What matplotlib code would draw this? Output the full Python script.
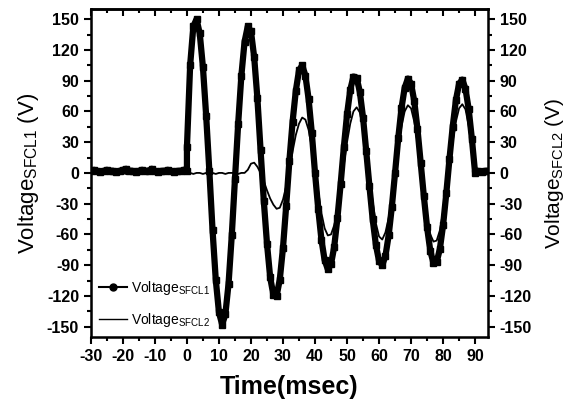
import numpy as np
import matplotlib.pyplot as plt
from matplotlib.lines import Line2D
from matplotlib.ticker import MultipleLocator

plt.rcParams['font.family'] = ['Liberation Sans', 'DejaVu Sans']
plt.rcParams['mathtext.default'] = 'regular'
plt.rcParams['axes.unicode_minus'] = False

# SFCL1 voltage (V): steady state before fault, then fault period
t_pre = list(range(-30, 1))
v1_pre = [2, 3, 2, 1, 2, 3, 2, 2, 1, 2, 3, 4, 2, 2, 1, 2, 3, 2, 2, 4, 2, 1, 2, 2, 3, 2, 1, 2, 2, 3, 2]
t_fault = list(range(0, 95))
v1_fault = [25, 105, 143, 150, 136, 103, 56, 2,
            -56, -104, -136, -148, -138, -108, -61, -6,
            48, 95, 128, 143, 138, 113, 73, 22,
            -27, -69, -102, -119, -120, -104, -73, -32,
            12, 50, 80, 100, 105, 95, 72, 39, 0,
            -35, -65, -85, -94, -89, -72, -44, -11,
            25, 57, 81, 94, 93, 79, 54, 21,
            -13, -45, -70, -86, -90, -81, -61, -33, 0,
            34, 63, 83, 92, 87, 70, 43, 10,
            -23, -53, -76, -88, -87, -74, -51, -20,
            14, 45, 71, 87, 91, 82, 62, 33, 0,
            2, 1, 2, 2]

# SFCL2 voltage (V)
t2 = list(range(-30, 95))
v2 = [0, -1, 0, 0, -1, 0, 0, -1, 0, 0, 0, -1, 0, 0, -1, 0, 0, 0, -1, 0,
      0, -1, 0, 0, 0, -1, 0, 0, -1, 0, 0, 0, -1, 0, 0, -1, 0, 0, 0, -1,
      0, 0, -1, 0, 0, 0, -1, 0, 0,
      3, 9, 10, 6, 0, -8, -17, -25, -31, -35,
      -34, -26, -13, 3, 21, 37, 48, 54,
      52, 42, 25, 4, -18, -39, -54, -61,
      -60, -51, -36, -15, 8, 30, 48, 60, 64,
      59, 44, 22, -3, -28, -49, -62,
      -65, -58, -44, -23, 0, 24, 45, 60, 66,
      63, 50, 30, 6, -20, -43, -60, -67,
      -66, -56, -38, -16, 8, 31, 50, 63, 67,
      62, 46, 24, 0, 0, 0, 0, 0]

t1 = t_pre + t_fault
v1 = v1_pre + v1_fault

fig = plt.figure(figsize=(5.68, 4.04), dpi=100)
ax = fig.add_axes([0.160, 0.166, 0.699, 0.812])

ax.plot(t1, v1, '-s', color='k', lw=4.5, ms=4)
ax.plot(t2, v2, '-', color='k', lw=1.3)

ax.set_xlim(-30, 94)
ax.set_ylim(-160, 160)
ax.xaxis.set_major_locator(MultipleLocator(10))
ax.xaxis.set_minor_locator(MultipleLocator(5))
ax.yaxis.set_major_locator(MultipleLocator(30))
ax.yaxis.set_minor_locator(MultipleLocator(15))
ax.tick_params(which='both', direction='out', width=1.5, labelsize=11.5)
ax.tick_params(which='major', length=5)
ax.tick_params(which='minor', length=3)
for lab in ax.get_xticklabels() + ax.get_yticklabels():
    lab.set_fontweight('bold')
for s in ax.spines.values():
    s.set_linewidth(1.8)

# top axis: inward ticks, no labels
top = ax.secondary_xaxis('top')
top.xaxis.set_major_locator(MultipleLocator(10))
top.xaxis.set_minor_locator(MultipleLocator(5))
top.tick_params(which='both', direction='in', width=1.5, labeltop=False)
top.tick_params(which='major', length=5)
top.tick_params(which='minor', length=3)
top.spines['top'].set_linewidth(1.8)

ax2 = ax.twinx()
ax2.set_ylim(-160, 160)
ax2.yaxis.set_major_locator(MultipleLocator(30))
ax2.yaxis.set_minor_locator(MultipleLocator(15))
ax2.tick_params(which='both', direction='out', width=1.5, labelsize=11.5)
ax2.tick_params(which='major', length=5)
ax2.tick_params(which='minor', length=3)
for lab in ax2.get_yticklabels():
    lab.set_fontweight('bold')

ax.set_xlabel('Time(msec)', fontsize=18, fontweight='bold', labelpad=8)
ax.set_ylabel('Voltage$_{SFCL1}$ (V)', fontsize=16, labelpad=4)
ax2.set_ylabel('Voltage$_{SFCL2}$ (V)', fontsize=15, labelpad=8)

handles = [Line2D([], [], color='k', lw=1.5, marker='o', ms=5),
           Line2D([], [], color='k', lw=1)]
ax.legend(handles, ['Voltage$_{SFCL1}$', 'Voltage$_{SFCL2}$'], loc='lower left',
          frameon=False, fontsize=10, handlelength=2.0, borderaxespad=0.2,
          labelspacing=1.0, handletextpad=0.3)

fig.savefig('out.png', dpi=100)
